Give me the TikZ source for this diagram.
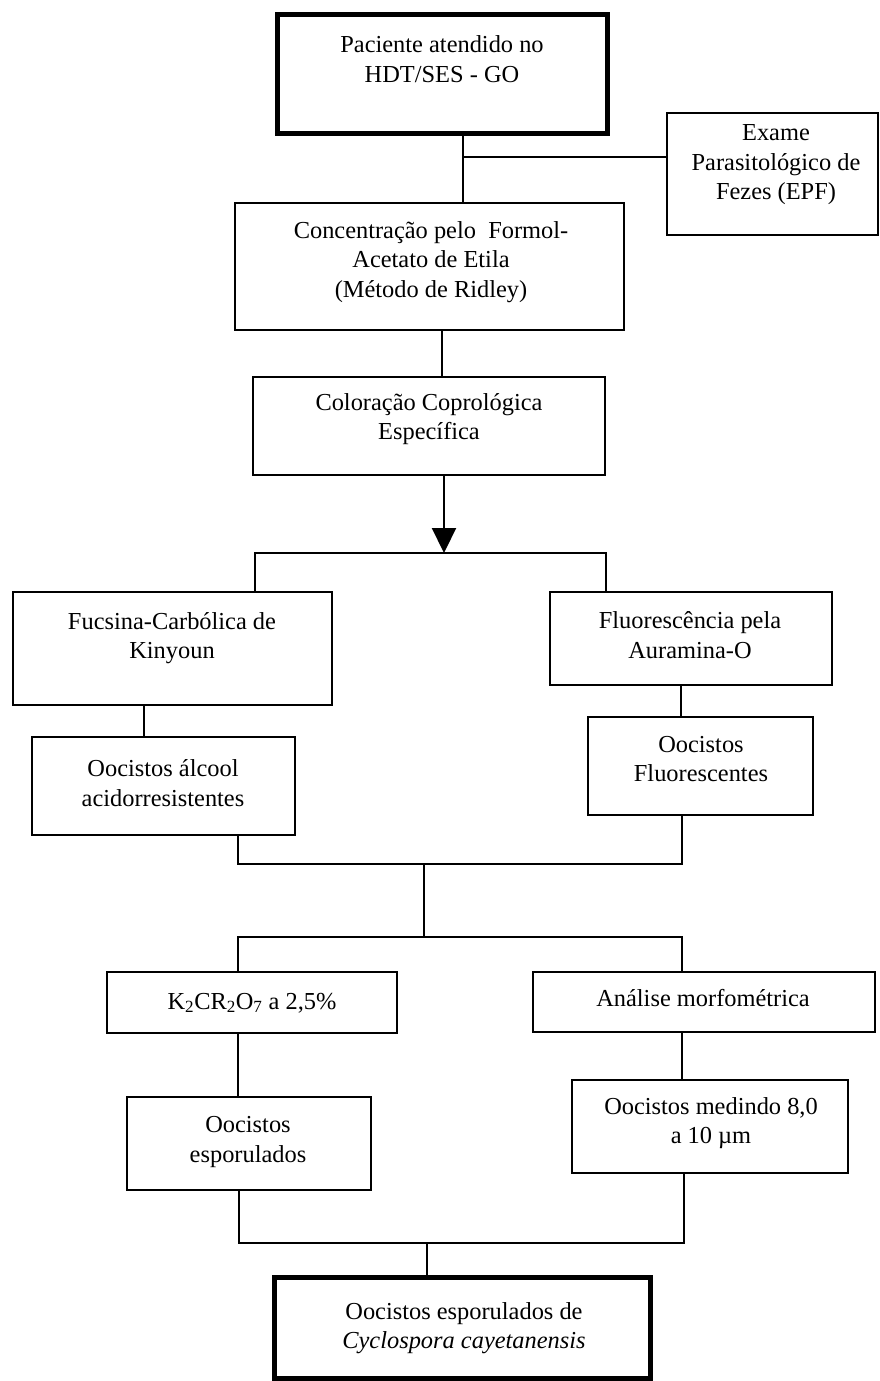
\documentclass[tikz,border=0pt]{standalone}
\usepackage{fontspec}
\setmainfont{Liberation Serif}
\usetikzlibrary{arrows.meta}
\begin{document}
\begin{tikzpicture}[x=1pt, y=-1pt,
    every node/.style={font=\fontsize{24.4}{29.5}\selectfont},
    box/.style={rectangle,draw,line width=2.6pt,inner sep=0pt},
    thickbox/.style={box,line width=5pt},
    txt/.style={align=center,inner sep=0pt},
    link/.style={line width=2.2pt}]
    \useasboundingbox (0,0) rectangle (879,1381);

    % Patient and stool exam
    \node[thickbox,minimum width=330,minimum height=118] (patient) at (442,74) {};
    \node[txt] (patienttxt) at (442,59) {Paciente atendido no\\HDT/SES - GO};
    \node[box,minimum width=211,minimum height=122] (epf) at (772.5,174) {};
    \node[txt] (epftxt) at (776,165) {Exame\\Parasitológico de\\Fezes (EPF)};

    % Concentration and staining
    \node[box,minimum width=389,minimum height=127] (conc) at (429.5,266.5) {};
    \node[txt] (conctxt) at (431,262) {Concentração pelo\ \ Formol-\\Acetato de Etila\\(Método de Ridley)};
    \node[box,minimum width=352,minimum height=98] (color) at (429,426) {};
    \node[txt] (colortxt) at (429,419) {Coloração Coprológica\\Específica};

    % Staining methods
    \node[box,minimum width=319,minimum height=113] (fucsina) at (172.5,648.5) {};
    \node[txt] (fucsinatxt) at (172,638) {Fucsina-Carbólica de\\Kinyoun};
    \node[box,minimum width=282,minimum height=93] (fluor) at (691,638.5) {};
    \node[txt] (fluortxt) at (690,635) {Fluorescência pela\\Auramina-O};
    \node[box,minimum width=263,minimum height=98] (alcool) at (163.5,786) {};
    \node[txt] (alcooltxt) at (163,783) {Oocistos álcool\\acidorresistentes};
    \node[box,minimum width=225,minimum height=98] (fluorocyst) at (700.5,766) {};
    \node[txt] (fluorocysttxt) at (701,759) {Oocistos\\Fluorescentes};

    % Confirmation
    \node[box,minimum width=290,minimum height=61] (k2) at (252,1002.5) {};
    \node[txt] (k2txt) at (252,1003) {K\textsubscript{2}CR\textsubscript{2}O\textsubscript{7} a 2,5\%};
    \node[box,minimum width=342,minimum height=60] (morpho) at (704,1002) {};
    \node[txt] (morphotxt) at (703,998) {Análise morfométrica};
    \node[box,minimum width=244,minimum height=93] (sporul) at (249,1143.5) {};
    \node[txt] (sporultxt) at (248,1142) {Oocistos\\esporulados};
    \node[box,minimum width=276,minimum height=93] (measure) at (710,1126.5) {};
    \node[txt] (measuretxt) at (711,1123) {Oocistos medindo 8,0\\a 10 µm};

    % Result
    \node[thickbox,minimum width=376,minimum height=101] (final) at (462,1327.5) {};
    \node[txt] (finaltxt) at (464,1328) {Oocistos esporulados de\\\textit{Cyclospora cayetanensis}};

    % Connectors
    \coordinate (epfjoin) at (463,157);
    \draw[link] (patient.south -| epfjoin) -- (conc.north -| epfjoin);
    \draw[link] (epfjoin) -- (epf.west |- epfjoin);
    \draw[link] ([xshift=12.5pt]conc.south) -- ([xshift=12.5pt]conc.south |- color.north);
    \coordinate (split) at (444,553);
    \coordinate (splitL) at (255,553);
    \coordinate (splitR) at (606,553);
    \draw[link,-{Triangle[width=24pt,length=25pt]}] (color.south -| split) -- (split);
    \draw[link] (fucsina.north -| splitL) -- (splitL) -- (splitR) -- (fluor.north -| splitR);
    \draw[link] ([xshift=-28.5pt]fucsina.south) -- ([xshift=-28.5pt]fucsina.south |- alcool.north);
    \draw[link] ([xshift=-10pt]fluor.south) -- ([xshift=-10pt]fluor.south |- fluorocyst.north);

    \coordinate (joinL) at (238,864);
    \coordinate (joinR) at (682,864);
    \coordinate (join) at (424,864);
    \draw[link] (alcool.south -| joinL) -- (joinL) -- (joinR) -- (fluorocyst.south -| joinR);
    \coordinate (forkL) at (238,937);
    \coordinate (forkR) at (682,937);
    \draw[link] (join) -- (join |- forkL);
    \draw[link] (k2.north -| forkL) -- (forkL) -- (forkR) -- (morpho.north -| forkR);
    \draw[link] (k2.south -| forkL) -- (sporul.north -| forkL);
    \draw[link] (morpho.south -| forkR) -- (measure.north -| forkR);

    \coordinate (endL) at (239,1243);
    \coordinate (endR) at (684,1243);
    \coordinate (end) at (427,1243);
    \draw[link] (sporul.south -| endL) -- (endL) -- (endR) -- (measure.south -| endR);
    \draw[link] (end) -- (final.north -| end);
\end{tikzpicture}
\end{document}
